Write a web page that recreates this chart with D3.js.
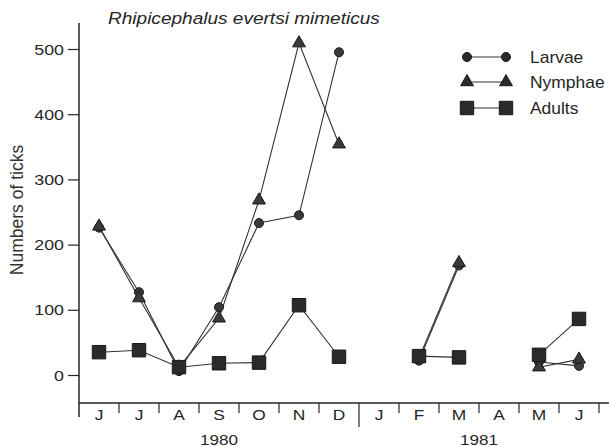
<!DOCTYPE html>
<html><head><meta charset="utf-8">
<script src="https://cdn.jsdelivr.net/npm/d3@7"></script>
<style>body{margin:0;background:#fff;}svg{display:block;}</style>
</head><body>
<svg id="c" width="609" height="447"></svg>
<script>
const months = ["J","J","A","S","O","N","D","J","F","M","A","M","J"];
const years = [{label:"1980", from:0, to:6},{label:"1981", from:7, to:12}];
const larvae   = [226,127,6,104,233,245,495,null,22,168,null,20,14];
const nymphae  = [228,118,12,87,268,509,354,null,26,172,null,12,24];
const adults   = [35,38,12,18,19,107,28,null,29,27,null,31,86];
const yTicks = [0,100,200,300,400,500];

const svg = d3.select("#c");
const ink = "#262626";
const font = "'Liberation Sans', Arial, sans-serif";
const idx = months.map((m,i)=>i);
const x = d3.scaleBand().domain(idx).range([79,599]).padding(0);
const y = d3.scaleLinear().domain([0,500]).range([375,49]);
const cx = i => x(i) + x.bandwidth()/2;

function stext(g, px, py, str, size, sx, anchor, italic){
  const t = g.append("text").attr("transform",`translate(${px},${py}) scale(${sx},1)`)
    .attr("text-anchor",anchor||"start").attr("font-family",font).attr("font-size",size)
    .attr("fill",ink).text(str);
  if(italic) t.attr("font-style","italic");
  return t;
}

// y axis
const yAxis = d3.axisLeft(y).tickValues(yTicks).tickSize(11).tickFormat(()=>"");
const gy = svg.append("g").attr("transform","translate(79,0)").call(yAxis);
gy.select(".domain").remove();
gy.selectAll("line").attr("stroke",ink).attr("stroke-width",1.2);
yTicks.forEach(v=> stext(svg, 64, y(v)+5.5, String(v), 15.5, 1.15, "end"));
svg.append("line").attr("x1",79).attr("x2",79).attr("y1",23).attr("y2",417).attr("stroke",ink).attr("stroke-width",1.5);

// x axis
svg.append("line").attr("x1",79).attr("x2",609).attr("y1",403).attr("y2",403).attr("stroke",ink).attr("stroke-width",1.5);
const bounds = idx.slice(1).concat([13]);
svg.selectAll("line.xt").data(bounds).enter().append("line").attr("class","xt")
  .attr("x1",d=> d<13 ? x(d) : x(12)+x.bandwidth()).attr("x2",d=> d<13 ? x(d) : x(12)+x.bandwidth())
  .attr("y1",403).attr("y2",d=> d===7 ? 427 : 413)
  .attr("stroke",ink).attr("stroke-width",1.2);
months.forEach((m,i)=> stext(svg, cx(i), 420, m, 15.5, 1.12, "middle"));
years.forEach(d=> stext(svg, (cx(d.from)+cx(d.to))/2, 445, d.label, 15.5, 1.1, "middle"));

// labels
svg.append("text").attr("transform","translate(23,210) rotate(-90)").attr("text-anchor","middle")
  .attr("font-family",font).attr("font-size",17.5).attr("fill","#333").text("Numbers of ticks");
stext(svg, 108, 24, "Rhipicephalus evertsi mimeticus", 16, 1.19, "start", true);

// series
const line = d3.line().defined(d=>d.v!==null).x(d=>cx(d.i)).y(d=>y(d.v));
const series = [
  {name:"Larvae", vals:larvae, sym:d3.symbolCircle, size:64},
  {name:"Nymphae", vals:nymphae, sym:d3.symbolTriangle, size:72},
  {name:"Adults", vals:adults, sym:d3.symbolSquare, size:180}
];
series.forEach(s=>{
  const pts = s.vals.map((v,i)=>({i,v}));
  svg.append("path").datum(pts).attr("d",line).attr("fill","none").attr("stroke","#333").attr("stroke-width",1.1);
});
series.forEach(s=>{
  const pts = s.vals.map((v,i)=>({i,v})).filter(d=>d.v!==null);
  svg.selectAll(null).data(pts).enter().append("path")
    .attr("d",d3.symbol().type(s.sym).size(s.size))
    .attr("transform",d=>`translate(${cx(d.i)},${y(d.v)})`)
    .attr("fill", s.name==="Adults" ? "#2a2a2a" : "#3a3a3a")
    .attr("stroke","#1a1a1a").attr("stroke-width",1);
});

// legend
const lg = svg.append("g");
const rowsY = [57, 82, 108];
series.forEach((s,k)=>{
  const ly = rowsY[k];
  lg.append("line").attr("x1",467).attr("x2",506).attr("y1",ly).attr("y2",ly).attr("stroke","#333").attr("stroke-width",1.1);
  [467,506].forEach(px=>{
    lg.append("path").attr("d",d3.symbol().type(s.sym).size(s.size)).attr("transform",`translate(${px},${ly})`)
      .attr("fill","#2a2a2a").attr("stroke","#1a1a1a").attr("stroke-width",1);
  });
  stext(lg, 530, ly+6, s.name, 16, 1.09, "start");
});
</script>
</body></html>
